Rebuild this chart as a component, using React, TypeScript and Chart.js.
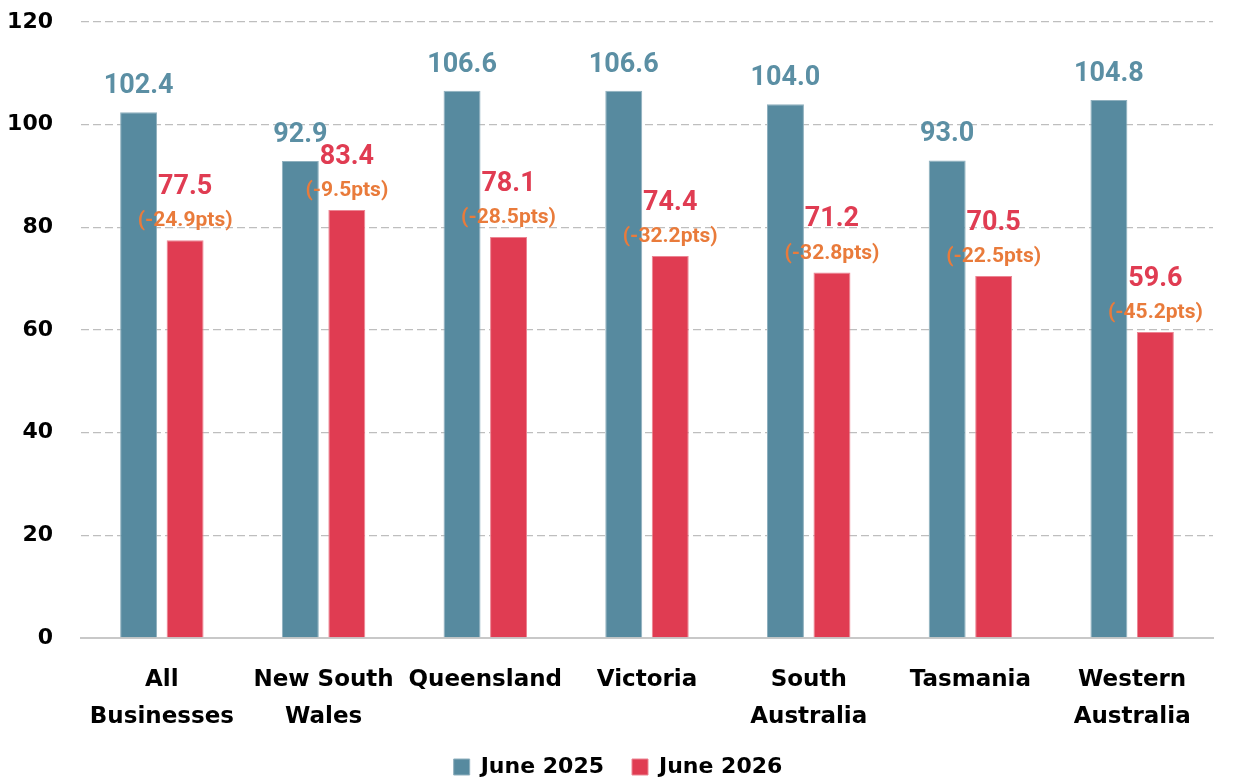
import React, { useEffect, useRef } from "react";
import { Chart, registerables } from "chart.js";

Chart.register(...registerables);

const categories: (string | string[])[] = [
  ["All", "Businesses"],
  ["New South", "Wales"],
  "Queensland",
  "Victoria",
  ["South", "Australia"],
  "Tasmania",
  ["Western", "Australia"],
];
const june2025 = [102.4, 92.9, 106.6, 106.6, 104.0, 93.0, 104.8];
const june2026 = [77.5, 83.4, 78.1, 74.4, 71.2, 70.5, 59.6];
const changePts = [-24.9, -9.5, -28.5, -32.2, -32.8, -22.5, -45.2];
const yTicks = [0, 20, 40, 60, 80, 100, 120];

const BLUE = "#578A9F";
const RED = "#E03C52";
const BLUE_LABEL = "#5B8FA4";
const ORANGE = "#E97B3B";
const FONT = "'DejaVu Sans', sans-serif";
const LABEL_FONT = "Roboto, 'DejaVu Sans', sans-serif";

const labelPlugin = {
  id: "barLabels",
  afterDatasetsDraw(chart: any) {
    const ctx = chart.ctx;
    ctx.save();
    ctx.textAlign = "center";
    ctx.textBaseline = "middle";
    const m0 = chart.getDatasetMeta(0);
    m0.data.forEach((bar: any, i: number) => {
      ctx.fillStyle = BLUE_LABEL;
      ctx.font = `bold 27px ${LABEL_FONT}`;
      ctx.fillText(june2025[i].toFixed(1), bar.x, bar.y - 26);
    });
    const m1 = chart.getDatasetMeta(1);
    m1.data.forEach((bar: any, i: number) => {
      ctx.fillStyle = RED;
      ctx.font = `bold 27px ${LABEL_FONT}`;
      ctx.fillText(june2026[i].toFixed(1), bar.x, bar.y - 53);
      ctx.fillStyle = ORANGE;
      ctx.font = `bold 21px ${LABEL_FONT}`;
      ctx.fillText(`(${changePts[i].toFixed(1)}pts)`, bar.x, bar.y - 19);
    });
    ctx.restore();
  },
};

export default function App() {
  const ref = useRef<HTMLCanvasElement | null>(null);
  useEffect(() => {
    document.body.style.margin = "0";
    if (!ref.current) return;
    const chart = new Chart(ref.current, {
      type: "bar",
      data: {
        labels: categories,
        datasets: [
          {
            label: "June 2025",
            data: june2025,
            backgroundColor: BLUE,
            borderColor: "#8FB0BE",
            borderWidth: 1,
            categoryPercentage: 0.575,
            barPercentage: 0.795,
          },
          {
            label: "June 2026",
            data: june2026,
            backgroundColor: RED,
            borderColor: "#EC8593",
            borderWidth: 1,
            categoryPercentage: 0.575,
            barPercentage: 0.795,
          },
        ],
      },
      options: {
        responsive: false,
        animation: false,
        layout: { padding: { top: 0, right: 0, left: 0, bottom: -8 } },
        plugins: {
          tooltip: { enabled: false },
          legend: {
            position: "bottom",
            labels: {
              boxWidth: 16,
              boxHeight: 16,
              padding: 28,
              color: "#000",
              font: { family: FONT, size: 22, weight: "bold" },
            },
          },
        },
        scales: {
          x: {
            grid: { display: false, drawTicks: false },
            border: { display: true, color: "#C8C8C8", width: 2 },
            ticks: {
              color: "#000",
              padding: 23,
              maxRotation: 0,
              autoSkip: false,
              font: { family: FONT, size: 23, weight: "bold", lineHeight: 1.62 },
            },
            afterFit: (s: any) => {
              s.height = 90;
              s.paddingRight = 23;
              s.paddingLeft = 0;
            },
          },
          y: {
            min: 0,
            max: 120,
            afterBuildTicks: (s: any) => {
              s.ticks = yTicks.map((v) => ({ value: v }));
            },
            grid: {
              drawTicks: false,
              color: (c: any) => (c.tick && c.tick.value === 0 ? "rgba(0,0,0,0)" : "#BEBEBE"),
              lineWidth: 1.3,
            },
            border: { display: false, dash: [8, 4] },
            ticks: {
              color: "#000",
              padding: 28,
              font: { family: FONT, size: 22, weight: "bold" },
            },
            afterFit: (s: any) => {
              s.width = 81;
              s.paddingTop = 22;
              s.paddingBottom = 0;
            },
          },
        },
      },
      plugins: [labelPlugin],
    });
    return () => chart.destroy();
  }, []);
  return (
    <div style={{ width: 1236, height: 780 }}>
      <canvas ref={ref} width={1236} height={780} />
    </div>
  );
}
